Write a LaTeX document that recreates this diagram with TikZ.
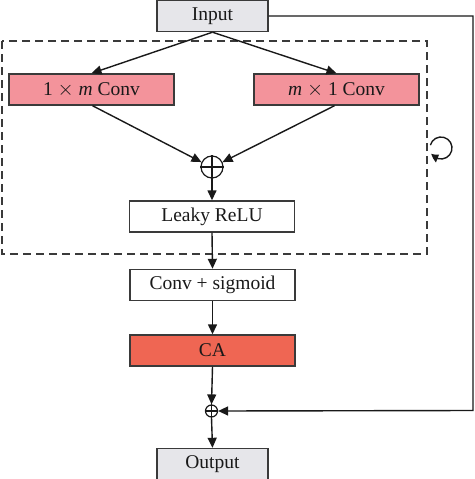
\documentclass[tikz,border=0pt]{standalone}
\usepackage{fontspec}
\setmainfont{Liberation Serif}
\usetikzlibrary{arrows.meta,bending}
\definecolor{boxgray}{HTML}{E6E6EA}
\definecolor{convpink}{HTML}{F3939B}
\definecolor{careg}{HTML}{EF6653}
\definecolor{edge}{HTML}{3A3A3A}
\begin{document}
\begin{tikzpicture}[x=1pt,y=-1pt,
  blk/.style={draw=edge,line width=1.4pt,minimum width=165pt,minimum height=31pt,inner sep=0pt,text=black!90,font=\fontsize{19.5}{22}\selectfont},
  iobox/.style={blk,fill=boxgray,minimum width=111pt},
  pinkbox/.style={blk,fill=convpink},
  conn/.style={draw=black!90,line width=1.4pt,-{Triangle[length=10pt,width=9pt]}},
  sumnode/.style={draw=black!90,line width=1.2pt,circle,inner sep=0pt},
]
\useasboundingbox (0,0) rectangle (474,479);
\draw[edge,line width=1.3pt,dash pattern=on 8pt off 5pt] (2,41) rectangle (427,254);
\node[iobox] (input) at (212.5,16) {Input};
\node[pinkbox] (c1) at (91.5,89.5) {1 $\times$ \textit{m} Conv};
\node[pinkbox] (c2) at (336.5,89.5) {\textit{m} $\times$ 1 Conv};
\node[sumnode,minimum size=22pt] (s1) at (212,167) {};
\draw[black!90,line width=1.2pt] (s1.north) -- (s1.south) (s1.west) -- (s1.east);
\node[blk,fill=white] (lr) at (212,216.5) {Leaky ReLU};
\node[blk,fill=white] (cs) at (212.5,285) {Conv + sigmoid};
\node[blk,fill=careg] (ca) at (212.5,350.5) {CA};
\node[sumnode,minimum size=12pt] (s2) at (211.5,411) {};
\draw[black!90,line width=1.2pt] (s2.north) -- (s2.south) (s2.west) -- (s2.east);
\node[iobox] (output) at (212.5,464) {Output};
\coordinate (tr) at (473,16);
\coordinate (br) at (473,410.5);
\draw[conn] (input.south) -- (c1.north);
\draw[conn] (input.south) -- (c2.north);
\draw[conn] ([xshift=1pt]c1.south) -- (s1.155);
\draw[conn] ([xshift=-2pt]c2.south) -- (s1.25);
\draw[conn] (s1.south) -- (lr.north);
\draw[conn] (lr.south) -- (cs.north);
\draw[conn] (cs.south) -- (ca.north);
\draw[conn] (ca.south) -- (s2.north);
\draw[conn] (s2.south) -- (output.north);
\draw[conn] (input.east) -- (tr) -- (br) -- (s2.east);
\coordinate (rot) at (441,148);
\draw[black!90,line width=1.4pt,-{Triangle[length=8pt,width=8pt,bend]}] ([shift={(-165:11)}]rot) arc[start angle=-165,end angle=150,radius=11];
\end{tikzpicture}
\end{document}
